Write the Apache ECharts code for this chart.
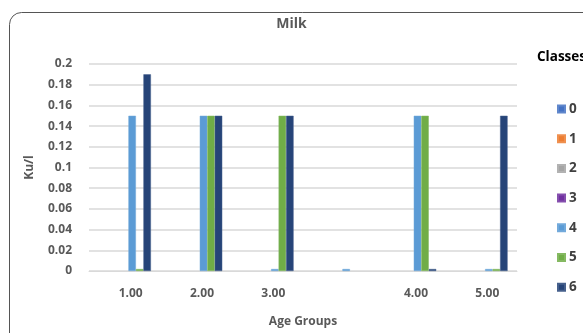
<!DOCTYPE html>
<html><head><meta charset="utf-8">
<script src="https://cdn.jsdelivr.net/npm/echarts@6/dist/echarts.min.js"></script>
<style>html,body{margin:0;padding:0;background:#fff}#c{width:583px;height:333px}</style>
</head><body><div id="c"></div>
<script>
const categories = ['1.00', '2.00', '3.00', '', '4.00', '5.00'];
const classNames = ['0', '1', '2', '3', '4', '5', '6'];
const class0 = [null, null, null, null, null, null];
const class1 = [null, null, null, null, null, null];
const class2 = [null, null, null, null, null, null];
const class3 = [null, null, null, null, null, null];
const class4 = [0.15, 0.15, 0, 0, 0.15, 0];
const class5 = [0, 0.15, 0.15, null, 0.15, 0];
const class6 = [0.19, 0.15, 0.15, null, 0, 0.15];
const yTicks = [0, 0.02, 0.04, 0.06, 0.08, 0.1, 0.12, 0.14, 0.16, 0.18, 0.2];

const seriesData = [class0, class1, class2, class3, class4, class5, class6];
const colors = ['#4472C4', '#ED7D31', '#A5A5A5', '#7030A0', '#5B9BD5', '#70AD47', '#264478'];
const font = '"Open Sans", Lato, sans-serif';

const chart = echarts.init(document.getElementById('c'));
chart.setOption({
  animation: false,
  color: colors,
  textStyle: { fontFamily: font },
  title: [
    { text: 'Milk', left: 'center', top: 12,
      textStyle: { fontSize: 14, fontWeight: 'bold', color: '#595959', fontFamily: font } },
    { text: 'Classes', left: 532, top: 45,
      textStyle: { fontSize: 13.5, fontWeight: 'bold', color: '#000', fontFamily: font } }
  ],
  graphic: [{
    type: 'rect', silent: true, z: -10,
    shape: { x: 9.5, y: 12.5, width: 620, height: 360, r: 12 },
    style: { fill: 'none', stroke: '#555', lineWidth: 1 }
  }],
  legend: {
    orient: 'vertical', left: 552, top: 97,
    itemWidth: 7, itemHeight: 7, itemGap: 15.7,
    icon: 'rect',
    data: classNames,
    textStyle: { fontSize: 13.5, fontWeight: 'bold', color: '#404040', fontFamily: font, padding: [0, 0, 0, -1] }
  },
  grid: { left: 89, right: 66, top: 64, bottom: 61 },
  xAxis: {
    type: 'category', data: categories,
    name: 'Age Groups', nameLocation: 'middle', nameGap: 45,
    nameTextStyle: { fontSize: 12, fontWeight: 'bold', color: '#595959', fontFamily: font },
    axisLine: { show: true, lineStyle: { color: '#d9d9d9' } },
    axisTick: { show: false },
    axisLabel: { fontSize: 12, color: '#595959', fontWeight: 'bold', margin: 17, padding: [0, 0, 0, 12], fontFamily: font }
  },
  yAxis: {
    type: 'value', min: 0, max: 0.2, interval: 0.02,
    name: 'Ku/l', nameLocation: 'middle', nameGap: 53, nameRotate: 90,
    nameTextStyle: { fontSize: 12, fontWeight: 'bold', color: '#595959', fontFamily: font },
    axisLine: { show: false }, axisTick: { show: false },
    axisLabel: {
      fontSize: 12, color: '#595959', fontWeight: 'bold', margin: 17, fontFamily: font,
      formatter: v => { const t = yTicks.find(x => Math.abs(x - v) < 1e-9); return String(t !== undefined ? t : v); }
    },
    splitLine: { lineStyle: { color: '#d9d9d9', width: 1.5 } }
  },
  series: seriesData.map((d, i) => ({
    name: classNames[i], type: 'bar', data: d,
    barWidth: 7.5, barGap: '0%', barMinHeight: 2,
    itemStyle: { color: colors[i], borderColor: echarts.color.lift(colors[i], 0.15), borderWidth: 0.5 }
  }))
});
</script></body></html>
